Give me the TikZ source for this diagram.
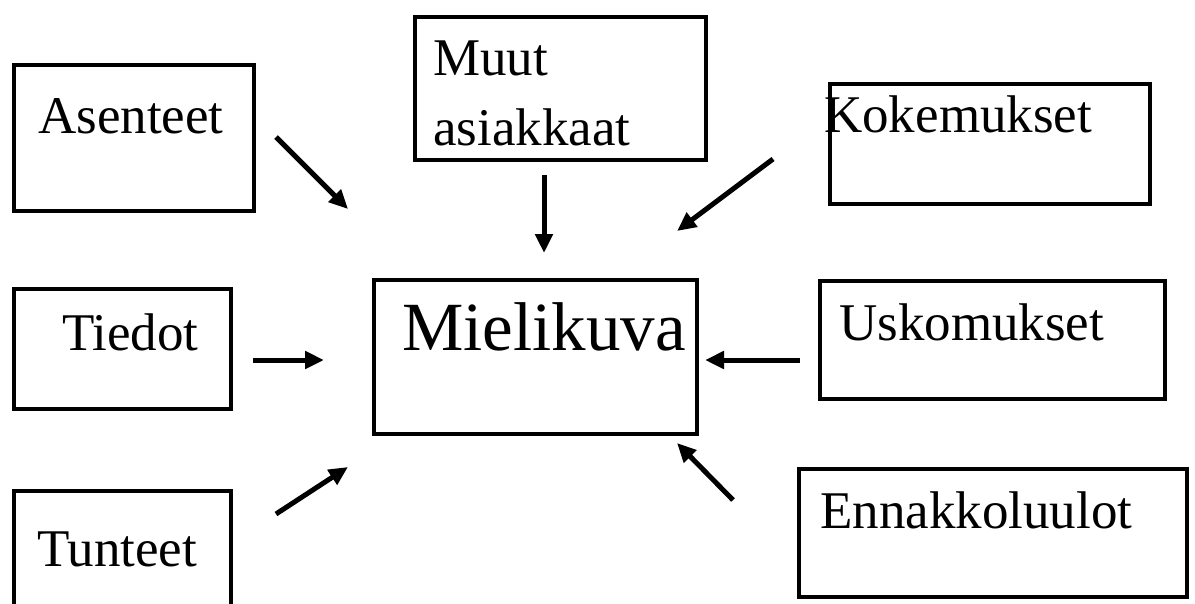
\documentclass[tikz,border=0pt]{standalone}
\usepackage{fontspec}
\setmainfont{Liberation Serif}
\usetikzlibrary{arrows.meta}
\tikzset{
  box/.style={draw=black, line width=4pt, inner sep=0pt, anchor=north west},
  lbl/.style={inner sep=0pt, anchor=base west, font=\fontsize{53}{60}\selectfont},
  biglbl/.style={inner sep=0pt, anchor=base west, font=\fontsize{69}{80}\selectfont},
  influence/.style={line width=5pt, -{Triangle[length=19pt,width=17pt]}}
}
\newcommand{\boxat}[5]{% name, left, top, right, bottom
  \node[box, minimum width={#4-#2}, minimum height={#5-#3}] (#1) at (#2,#3) {};}
\begin{document}
\begin{tikzpicture}[x=1pt,y=-1pt]
  \clip (0,0) rectangle (1195,603);
  \fill[white] (0,0) rectangle (1195,603);

  % factor boxes
  \boxat{asenteet}{12}{63}{252}{209}
  \boxat{muut}{413}{15}{704}{158}
  \boxat{kokemukset}{828}{82}{1148}{202}
  \boxat{tiedot}{12}{287}{229}{407}
  \boxat{mielikuva}{372}{278}{695}{432}
  \boxat{uskomukset}{818}{279}{1163}{397}
  \boxat{tunteet}{12}{489}{229}{640}
  \boxat{ennakko}{797}{467}{1185}{595}

  % labels
  \node[lbl] (tasenteet) at (38,133) {Asenteet};
  \node[lbl] (tmuut1) at (433,75) {Muut};
  \node[lbl] (tmuut2) at (433,145) {asiakkaat};
  \node[lbl] (tkokemukset) at (824,132) {Kokemukset};
  \node[lbl] (ttiedot) at (62,350) {Tiedot};
  \node[biglbl] (tmielikuva) at (402,350) {Mielikuva};
  \node[lbl] (tuskomukset) at (839,340) {Uskomukset};
  \node[lbl] (ttunteet) at (37,566) {Tunteet};
  \node[lbl] (tennakko) at (820,528) {Ennakkoluulot};

  % arrow ends
  \coordinate (a1s) at (276,137);  \coordinate (a1e) at (348,209);
  \coordinate (a2s) at (544,175);  \coordinate (a2e) at (544,253);
  \coordinate (a3s) at (773,159);  \coordinate (a3e) at (677,231);
  \coordinate (a4s) at (253,360);  \coordinate (a4e) at (324,360);
  \coordinate (a5s) at (800,360);  \coordinate (a5e) at (705,360);
  \coordinate (a6s) at (276,514);  \coordinate (a6e) at (348,467);
  \coordinate (a7s) at (733,500);  \coordinate (a7e) at (677,443);

  % influences on the image
  \draw[influence] (a1s) -- (a1e);
  \draw[influence] (a2s) -- (a2e);
  \draw[influence] (a3s) -- (a3e);
  \draw[influence] (a4s) -- (a4e);
  \draw[influence] (a5s) -- (a5e);
  \draw[influence] (a6s) -- (a6e);
  \draw[influence] (a7s) -- (a7e);
\end{tikzpicture}
\end{document}
